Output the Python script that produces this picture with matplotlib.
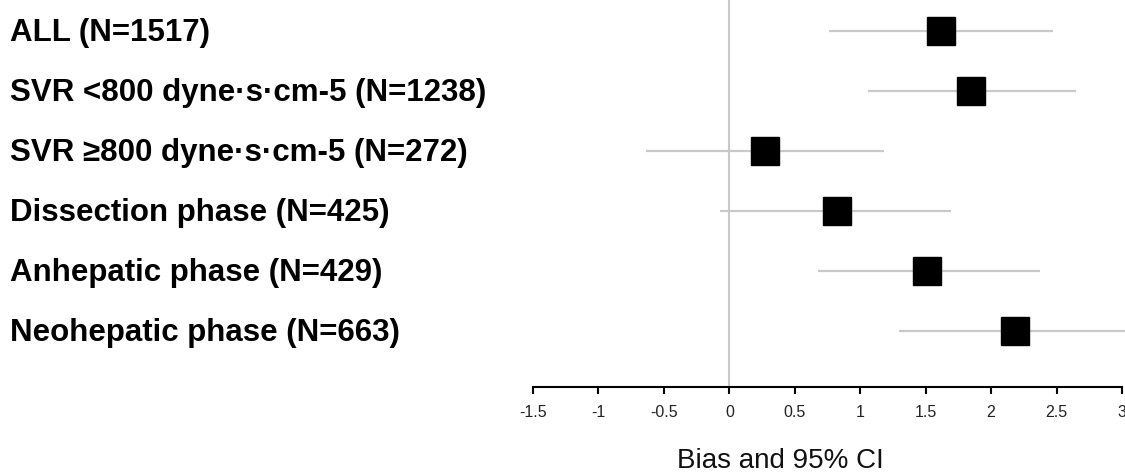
import numpy as np
import matplotlib
matplotlib.use("Agg")
import matplotlib.pyplot as plt
import matplotlib.transforms as mtransforms

plt.rcParams['font.family'] = ['Liberation Sans', 'DejaVu Sans']

labels = [
    "ALL (N=1517)",
    "SVR <800 dyne\u00b7s\u00b7cm-5 (N=1238)",
    "SVR \u2265800 dyne\u00b7s\u00b7cm-5 (N=272)",
    "Dissection phase (N=425)",
    "Anhepatic phase (N=429)",
    "Neohepatic phase (N=663)",
]
bias = [1.62, 1.85, 0.27, 0.82, 1.51, 2.18]
ci_low = [0.76, 1.06, -0.64, -0.07, 0.68, 1.30]
ci_high = [2.47, 2.65, 1.18, 1.69, 2.37, 3.05]
xticks = [-1.5, -1, -0.5, 0, 0.5, 1, 1.5, 2, 2.5, 3]
xticklabels = ["-1.5", "-1", "-0.5", "0", "0.5", "1", "1.5", "2", "2.5", "3"]

W, H = 1125, 475
fig = plt.figure(figsize=(W / 100, H / 100), dpi=100)
ax = fig.add_axes([533 / W, 1 - 387 / H, (1122 - 533) / W, 387 / H])

rows = np.arange(len(labels))

# zero line
ax.axvline(0, color="#c9c9c9", lw=1.5, zorder=1)

# CIs and point estimates
ax.hlines(rows, ci_low, ci_high, color="#c9c9c9", lw=1.6, zorder=2, clip_on=False)
ax.plot(bias, rows, ls="none", marker="s", ms=19.5, color="black", zorder=3)

ax.set_xlim(-1.5, 3.0)
ax.set_ylim(5.933, -0.517)

for s in ["top", "right", "left"]:
    ax.spines[s].set_visible(False)
ax.spines["bottom"].set_linewidth(1.5)
ax.set_yticks([])
ax.set_xticks(xticks)
ax.set_xticklabels(xticklabels, fontsize=11.5, color="#222222")
ax.tick_params(axis="x", length=5, width=1.5, pad=8)

# row labels at left of figure
trans = mtransforms.blended_transform_factory(fig.transFigure, ax.transData)
for i, lab in enumerate(labels):
    ax.text(10 / W, i + 0.16, lab, transform=trans, ha="left", va="baseline",
            fontsize=22.5, fontweight="bold", color="black", clip_on=False)

fig.text(780 / W, 0.014, "Bias and 95% CI", ha="center", va="baseline",
         fontsize=20, color="#111111")

fig.savefig("out.png", dpi=100)
